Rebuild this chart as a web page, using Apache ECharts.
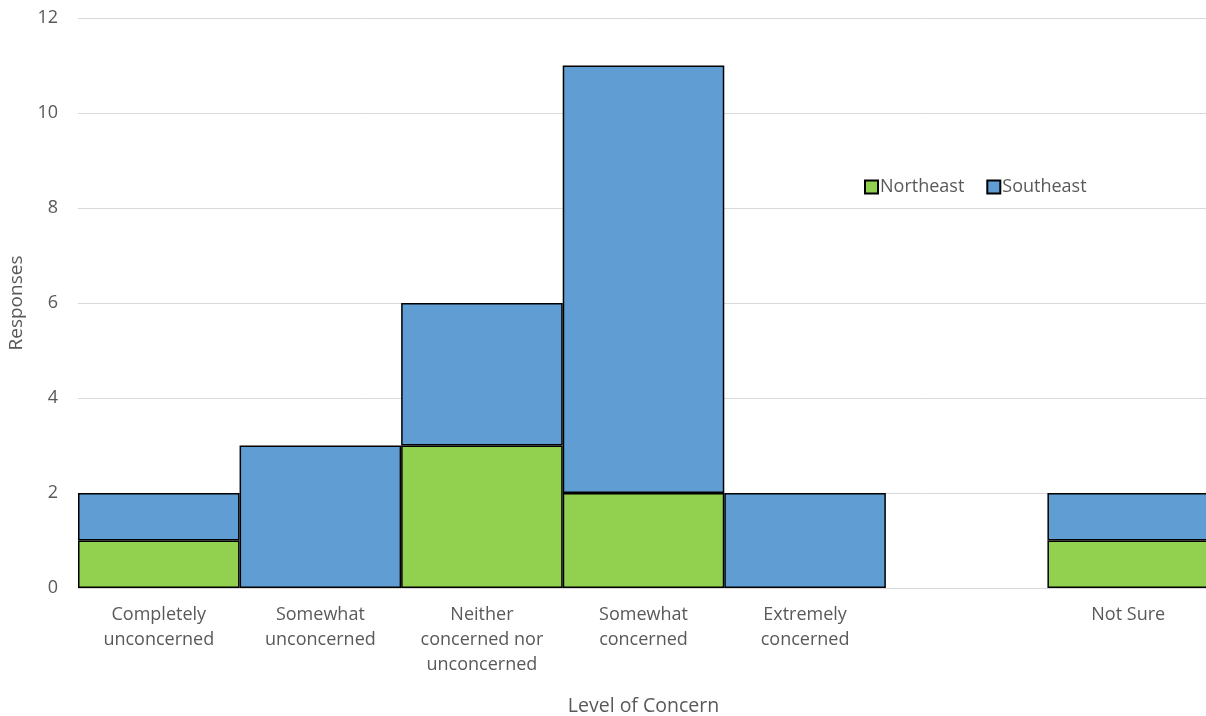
<!DOCTYPE html>
<html><head><meta charset="utf-8">
<script src="https://cdn.jsdelivr.net/npm/echarts@6/dist/echarts.min.js"></script>
<style>html,body{margin:0;padding:0;background:#fff}#c{width:1206px;height:716px}</style>
</head><body><div id="c"></div>
<script>
const categories = ['Completely\nunconcerned','Somewhat\nunconcerned','Neither\nconcerned nor\nunconcerned','Somewhat\nconcerned','Extremely\nconcerned','','Not Sure'];
const northeast = [1, 0, 3, 2, 0, 0, 1];
const southeast = [1, 3, 3, 9, 2, 0, 1];
const yTicks = [0, 2, 4, 6, 8, 10, 12];

const FONT = '"Open Sans", sans-serif';
const GRAY = '#595959';
const chart = echarts.init(document.getElementById('c'), null, {renderer: 'canvas'});
const toData = arr => arr.map(v => v === 0 ? '-' : v);
chart.setOption({
  animation: false,
  backgroundColor: '#fff',
  grid: {left: 78, top: 18, width: 1131, height: 570, containLabel: false, outerBoundsMode: 'none'},
  legend: {
    left: 859, top: 173, itemWidth: 13, itemHeight: 13, itemGap: 22,
    icon: 'rect',
    textStyle: {fontFamily: FONT, fontSize: 18, color: GRAY, padding: [0,0,0,-3]},
    data: ['Northeast', 'Southeast']
  },
  xAxis: {
    type: 'category', data: categories,
    axisLine: {lineStyle: {color: '#d9d9d9', width: 1}},
    axisTick: {show: false},
    axisLabel: {interval: 0, color: GRAY, fontFamily: FONT, fontSize: 18, lineHeight: 25, margin: 14, verticalAlign: 'top'},
    name: 'Level of Concern', nameLocation: 'middle', nameGap: 108,
    nameTextStyle: {fontFamily: FONT, fontSize: 19.5, color: GRAY}
  },
  yAxis: {
    type: 'value', min: 0, max: 12, interval: 2,
    axisLine: {show: false}, axisTick: {show: false},
    splitLine: {lineStyle: {color: '#d9d9d9', width: 1}},
    axisLabel: {color: GRAY, fontFamily: FONT, fontSize: 18, margin: 20,
      formatter: v => yTicks.includes(v) ? String(v) : ''},
    name: 'Responses', nameLocation: 'middle', nameGap: 50, nameRotate: 90,
    nameTextStyle: {fontFamily: FONT, fontSize: 19, color: GRAY}
  },
  series: [
    {name: 'Northeast', type: 'bar', stack: 'a', data: toData(northeast), barCategoryGap: '0%',
      itemStyle: {color: '#92d050', borderColor: '#000', borderWidth: 1.5}},
    {name: 'Southeast', type: 'bar', stack: 'a', data: toData(southeast), barCategoryGap: '0%',
      itemStyle: {color: '#5f9dd3', borderColor: '#000', borderWidth: 1.5}}
  ]
});
</script></body></html>
